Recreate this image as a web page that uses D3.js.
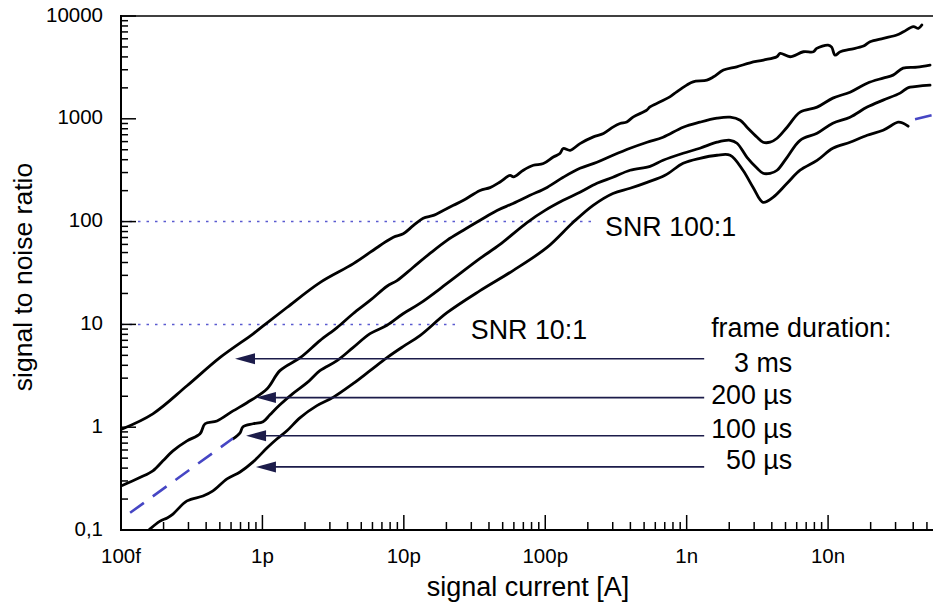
<!DOCTYPE html>
<html>
<head>
<meta charset="utf-8">
<script src="https://cdn.jsdelivr.net/npm/d3@7"></script>
<style>
  html, body { margin: 0; padding: 0; background: #fff; }
  svg { display: block; font-family: "Liberation Sans", Arial, Helvetica, sans-serif; }
</style>
</head>
<body>
<svg id="chart" width="933" height="606"></svg>
<script>
// Signal-to-noise ratio versus signal current for several frame durations.
// Each series: [signal current in A, SNR].
const series3ms = [
  [1e-13, 0.95], [1.68e-13, 1.35], [2.93e-13, 2.53], [5.0e-13, 4.75], [8.6e-13, 8.1],
  [1.04e-12, 9.95], [1.49e-12, 14.6], [2.55e-12, 25.5], [4.4e-12, 39], [6.79e-12, 58.6],
  [8.43e-12, 70.6], [9.91e-12, 76.2], [1.17e-11, 91.8], [1.37e-11, 108], [1.62e-11, 115],
  [1.9e-11, 128.5], [2.24e-11, 144], [2.64e-11, 161], [3.46e-11, 201], [4.07e-11, 214],
  [4.79e-11, 243], [5.64e-11, 282], [5.96e-11, 272], [7.0e-11, 316], [8.24e-11, 353],
  [9.7e-11, 367], [1.14e-10, 425], [1.27e-10, 459], [1.34e-10, 514], [1.5e-10, 494],
  [1.76e-10, 574], [2.19e-10, 667], [2.58e-10, 719], [3.03e-10, 834], [3.38e-10, 899],
  [3.77e-10, 933], [4.2e-10, 1045], [5.22e-10, 1213], [5.5e-10, 1306], [6.5e-10, 1462],
  [7.6e-10, 1635], [8.5e-10, 1829], [1.0e-9, 2126], [1.11e-9, 2290], [1.39e-9, 2377],
  [1.55e-9, 2560], [1.82e-9, 2977], [2.26e-9, 3206], [2.81e-9, 3508], [3.49e-9, 3727],
  [4.34e-9, 4013], [4.58e-9, 4330], [5.39e-9, 4013], [6.69e-9, 4490], [7.87e-9, 4490],
  [8.31e-9, 4840], [1.0e-8, 5210], [1.06e-8, 4980], [1.12e-8, 4170], [1.22e-8, 4490],
  [1.43e-8, 4730], [1.78e-8, 5100], [1.98e-8, 5620], [2.46e-8, 6070], [3.06e-8, 6530],
  [3.41e-8, 7030], [4.01e-8, 7870], [4.35e-8, 7590], [4.6e-8, 8180]
];
const series200us = [
  [1e-13, 0.268], [1.36e-13, 0.324], [1.68e-13, 0.376], [1.98e-13, 0.471], [2.33e-13, 0.589],
  [2.93e-13, 0.736], [3.62e-13, 0.862], [3.93e-13, 1.08], [4.77e-13, 1.15], [6.2e-13, 1.44],
  [7.78e-13, 1.73], [1.08e-12, 2.37], [1.33e-12, 3.55], [1.85e-12, 4.74], [2.55e-12, 6.95],
  [3.37e-12, 9.31], [4.37e-12, 12.7], [5.77e-12, 17.1], [7.6e-12, 23.5], [8.95e-12, 26.7],
  [1.16e-11, 35.8], [1.53e-11, 49], [2.02e-11, 65.7], [2.62e-11, 82], [3.46e-11, 103],
  [4.56e-11, 128.5], [5.92e-11, 150], [7.8e-11, 180], [1.03e-10, 215], [1.34e-10, 270],
  [1.76e-10, 330], [2.32e-10, 378], [3.01e-10, 442], [3.98e-10, 517], [5.25e-10, 592],
  [6.81e-10, 662], [9.44e-10, 828], [1.24e-9, 927], [1.64e-9, 1014], [2.03e-9, 1037],
  [2.39e-9, 969], [2.67e-9, 828], [3.15e-9, 662], [3.47e-9, 592], [3.89e-9, 592],
  [4.36e-9, 647], [5.13e-9, 828], [6.34e-9, 1160], [8.36e-9, 1298], [1.08e-8, 1589],
  [1.43e-8, 1816], [1.89e-8, 2220], [2.45e-8, 2490], [2.88e-8, 2660], [3.39e-8, 3110],
  [4.26e-8, 3180], [5.26e-8, 3330]
];
const series100us = [
  [6.2e-13, 0.771], [6.95e-13, 0.881], [7.29e-13, 1.01], [8.59e-13, 1.08], [1.01e-12, 1.13],
  [1.13e-12, 1.32], [1.33e-12, 1.65], [1.64e-12, 2.12], [2.07e-12, 2.71], [2.55e-12, 3.55],
  [3.37e-12, 4.44], [4.37e-12, 5.94], [5.77e-12, 8.13], [7.6e-12, 9.8], [9.87e-12, 12.7],
  [1.3e-11, 16], [2.02e-11, 25], [3.46e-11, 43.8], [4.79e-11, 60], [7.43e-11, 98],
  [9.97e-11, 128.5], [1.34e-10, 161], [1.76e-10, 193], [2.32e-10, 236], [3.01e-10, 270],
  [3.98e-10, 316], [5.51e-10, 345], [6.81e-10, 395], [9.44e-10, 462], [1.24e-9, 517],
  [1.64e-9, 592], [2.03e-9, 618], [2.27e-9, 578], [2.67e-9, 422], [3.15e-9, 330],
  [3.47e-9, 295], [3.89e-9, 295], [4.36e-9, 316], [5.13e-9, 422], [6.34e-9, 618],
  [8.36e-9, 724], [1.08e-8, 907], [1.43e-8, 1037], [1.89e-8, 1300], [2.45e-8, 1520],
  [3.23e-8, 1778], [3.62e-8, 1987], [3.8e-8, 2033], [5.26e-8, 2130]
];
const series50us = [
  [1.36e-13, 0.0817], [1.6e-13, 0.102], [1.89e-13, 0.122], [2.12e-13, 0.131], [2.33e-13, 0.143],
  [2.93e-13, 0.192], [3.8e-13, 0.214], [4.47e-13, 0.240], [5.62e-13, 0.314], [6.95e-13, 0.367],
  [8.59e-13, 0.460], [1.08e-12, 0.63], [1.27e-12, 0.771], [1.49e-12, 0.922], [1.85e-12, 1.24],
  [2.43e-12, 1.62], [3.16e-12, 1.95], [4.37e-12, 2.65], [5.77e-12, 3.55], [7.6e-12, 4.75],
  [9.87e-12, 6.08], [1.3e-11, 7.78], [2.02e-11, 13], [3.46e-11, 21.3], [5.92e-11, 33.4],
  [1.03e-10, 56.1], [1.57e-10, 98], [2.18e-10, 144], [3.01e-10, 188], [3.98e-10, 211],
  [5.25e-10, 241], [7.03e-10, 282], [9.44e-10, 369], [1.24e-9, 413], [1.64e-9, 442],
  [2.03e-9, 442], [2.5e-9, 316], [2.95e-9, 215], [3.47e-9, 154], [4.08e-9, 172],
  [5.13e-9, 236], [6.34e-9, 316], [8.36e-9, 394], [1.08e-8, 517], [1.43e-8, 592],
  [1.89e-8, 692], [2.45e-8, 774], [3.13e-8, 927], [3.4e-8, 905], [3.68e-8, 847]
];
// Extrapolated (dashed) segments
const extrapLow = [[1.16e-13, 0.147], [6.2e-13, 0.78]];
const extrapHigh = [[4.12e-8, 991], [6.0e-8, 1120]];

// SNR reference levels
const snrLevels = [100, 10];
const snrLevelLabels = ["SNR 100:1", "SNR 10:1"];
const snrLevelEnds = [2.18e-10, 2.45e-11];

// Frame-duration arrows: SNR level, arrow tip current
const frameLabels = ["3 ms", "200 µs", "100 µs", "50 µs"];
const arrowSnr = [4.64, 1.94, 0.825, 0.411];
const arrowTip = [6.4e-13, 9.0e-13, 7.66e-13, 9.0e-13];
const arrowTail = 1.33e-9;

// Axis ticks
const xTickValues = [1e-13, 1e-12, 1e-11, 1e-10, 1e-9, 1e-8];
const xTickLabels = ["100f", "1p", "10p", "100p", "1n", "10n"];
const yTickValues = [0.1, 1, 10, 100, 1000, 10000];
const yTickLabels = ["0,1", "1", "10", "100", "1000", "10000"];

const svg = d3.select("#chart");
const pLeft = 121, pRight = 932, pTop = 16, pBottom = 530;

const x = d3.scaleLog().domain([1e-13, 5.43e-8]).range([pLeft, pRight]);
const y = d3.scaleLog().domain([0.1, 10000]).range([pBottom, pTop]);

svg.append("defs").append("clipPath").attr("id", "plotClip")
  .append("rect").attr("x", pLeft).attr("y", pTop)
  .attr("width", pRight - pLeft + 2).attr("height", pBottom - pTop);

const plot = svg.append("g").attr("clip-path", "url(#plotClip)");

// SNR reference lines (dotted)
snrLevels.forEach((v, i) => {
  plot.append("line")
    .attr("x1", pLeft).attr("x2", x(snrLevelEnds[i]))
    .attr("y1", y(v)).attr("y2", y(v))
    .attr("stroke", "#5a5ad0").attr("stroke-width", 1.5)
    .attr("stroke-dasharray", "2.5,6");
});

const line = d3.line().x(d => x(d[0])).y(d => y(d[1])).curve(d3.curveCatmullRom.alpha(0.5));

[series3ms, series200us, series100us, series50us].forEach(s => {
  plot.append("path").datum(s).attr("d", line)
    .attr("fill", "none").attr("stroke", "#000").attr("stroke-width", 2.8)
    .attr("stroke-linejoin", "round").attr("stroke-linecap", "round");
});

[extrapLow, extrapHigh].forEach(s => {
  plot.append("path").datum(s).attr("d", d3.line().x(d => x(d[0])).y(d => y(d[1])))
    .attr("fill", "none").attr("stroke", "#4646c4").attr("stroke-width", 2.6)
    .attr("stroke-dasharray", "17,11");
});

// Arrows pointing to each curve
const arrowColor = "#1c1c4a";
arrowSnr.forEach((v, i) => {
  const yy = y(v), xt = x(arrowTip[i]), xe = x(arrowTail);
  svg.append("line").attr("x1", xt + 10).attr("x2", xe)
    .attr("y1", yy).attr("y2", yy)
    .attr("stroke", arrowColor).attr("stroke-width", 1.6);
  svg.append("path")
    .attr("d", `M${xt},${yy} L${xt + 20},${yy - 5.5} L${xt + 20},${yy + 5.5} Z`)
    .attr("fill", arrowColor);
});

// Annotation text
const annoSize = 26.8;
snrLevels.forEach((v, i) => {
  svg.append("text").attr("x", x(snrLevelEnds[i]) + 12).attr("y", y(v) + 14.5)
    .attr("font-size", annoSize).attr("fill", "#000").text(snrLevelLabels[i]);
});
svg.append("text").attr("x", x(arrowTail) + 7).attr("y", 337)
  .attr("font-size", annoSize).text("frame duration:");
const labelDy = [13, 6, 2, 2];
frameLabels.forEach((t, i) => {
  svg.append("text").attr("x", x(arrowTail) + 88).attr("y", y(arrowSnr[i]) + labelDy[i])
    .attr("text-anchor", "end").attr("font-size", annoSize).text(t);
});

// Axes frame
const axisG = svg.append("g").attr("stroke", "#000").attr("fill", "none");
axisG.append("line").attr("x1", pLeft).attr("x2", pLeft).attr("y1", pTop - 1).attr("y2", pBottom + 1).attr("stroke-width", 2);
axisG.append("line").attr("x1", pLeft - 1).attr("x2", 933).attr("y1", pBottom).attr("y2", pBottom).attr("stroke-width", 2);
axisG.append("line").attr("x1", pLeft - 1).attr("x2", 933).attr("y1", pTop).attr("y2", pTop).attr("stroke-width", 1.5);

// X ticks (inward, upward)
const xMinor = [];
for (let e = -13; e <= -8; e++) {
  for (let m = 2; m <= 9; m++) {
    const v = m * Math.pow(10, e);
    if (v <= x.domain()[1]) xMinor.push(v);
  }
}
xMinor.forEach(v => axisG.append("line").attr("x1", x(v)).attr("x2", x(v))
  .attr("y1", pBottom).attr("y2", pBottom - 8).attr("stroke-width", 1.5));
xTickValues.forEach(v => axisG.append("line").attr("x1", x(v)).attr("x2", x(v))
  .attr("y1", pBottom).attr("y2", pBottom - 15).attr("stroke-width", 1.5));

// Y ticks (inward, rightward)
const yMinor = [];
for (let e = -1; e <= 3; e++) {
  for (let m = 2; m <= 9; m++) yMinor.push(m * Math.pow(10, e));
}
yMinor.forEach(v => axisG.append("line").attr("x1", pLeft).attr("x2", pLeft + 7)
  .attr("y1", y(v)).attr("y2", y(v)).attr("stroke-width", 1.5));
yTickValues.forEach(v => axisG.append("line").attr("x1", pLeft).attr("x2", pLeft + 15)
  .attr("y1", y(v)).attr("y2", y(v)).attr("stroke-width", 1.5));

// Tick labels
const tickSize = 20.5;
xTickValues.forEach((v, i) => {
  svg.append("text").attr("x", x(v)).attr("y", 563).attr("text-anchor", "middle")
    .attr("font-size", tickSize).text(xTickLabels[i]);
});
yTickValues.forEach((v, i) => {
  svg.append("text").attr("x", 103).attr("y", y(v) + 5.5).attr("text-anchor", "end")
    .attr("font-size", tickSize).text(yTickLabels[i]);
});

// Axis titles
svg.append("text").attr("x", 528).attr("y", 596).attr("text-anchor", "middle")
  .attr("font-size", 27).text("signal current [A]");
svg.append("text").attr("transform", "translate(32,277) rotate(-90)")
  .attr("text-anchor", "middle").attr("font-size", 26.5).text("signal to noise ratio");
</script>
</body>
</html>
